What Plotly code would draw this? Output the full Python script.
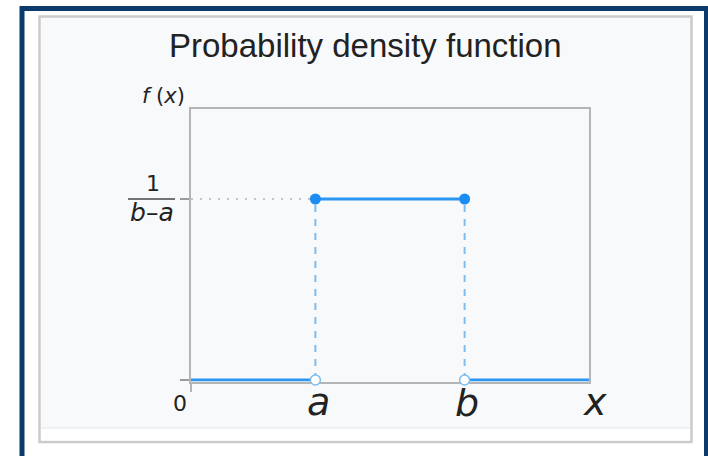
import plotly.graph_objects as go

# Uniform distribution on [a, b]
a = 1.0
b = 2.2
x_end = 3.2
density = 1.0 / (b - a)

x_labels = ["0", "a", "b", "x"]
x_label_pos = [0.0, a, b, x_end]

W, H = 708, 456

# plot-area placement (pixels); the bottom edge sits a touch below y = 0
# so the zero-density segments are not clipped by the plot area
PL, PR, PT, PB = 191, 589, 109, 380
PAD = 1.5
px_per_unit = (PB - 199) / density
y_top = (PB - PT) / px_per_unit
y_bottom = -PAD / px_per_unit


def fx(px):
    return px / W


def fy(py):
    return 1 - py / H


BLUE = "#2b95f2"
BLUE_DOT = "#1c8cf5"
BLUE_DASH = "#7dbdf0"
AXIS = "#b5b5b5"
TXT = "#222222"

fig = go.Figure()

# dotted guide from the y-axis to the left end of the density
fig.add_trace(go.Scatter(x=[0, a], y=[density, density], mode="lines",
                         line=dict(color="#c4c4c4", width=1.8, dash="2px,7px"),
                         hoverinfo="skip"))
# vertical dashed drops at a and b
for xv in (a, b):
    fig.add_trace(go.Scatter(x=[xv, xv], y=[0, density], mode="lines",
                             line=dict(color=BLUE_DASH, width=2, dash="7px,7px"),
                             hoverinfo="skip"))
# zero density outside [a, b]
fig.add_trace(go.Scatter(x=[0, a], y=[0, 0], mode="lines",
                         line=dict(color=BLUE, width=3), hoverinfo="skip"))
fig.add_trace(go.Scatter(x=[b, x_end], y=[0, 0], mode="lines",
                         line=dict(color=BLUE, width=3), hoverinfo="skip"))
# constant density on [a, b]
fig.add_trace(go.Scatter(x=[a, b], y=[density, density], mode="lines",
                         line=dict(color=BLUE, width=3), hoverinfo="skip"))
# closed endpoints at the top, open endpoints at the bottom
fig.add_trace(go.Scatter(x=[a, b], y=[density, density], mode="markers",
                         marker=dict(color=BLUE_DOT, size=11),
                         cliponaxis=False, hoverinfo="skip"))
fig.add_trace(go.Scatter(x=[a, b], y=[0, 0], mode="markers",
                         marker=dict(color="white", size=10,
                                     line=dict(color=BLUE_DASH, width=1.5)),
                         cliponaxis=False, hoverinfo="skip"))

shapes = [
    # outer frame
    dict(type="rect", xref="paper", yref="paper", x0=fx(22), x1=fx(706.5),
         y0=fy(460), y1=fy(8.5), line=dict(color="#0b3a6d", width=5),
         fillcolor="white", layer="below"),
    # inner panel
    dict(type="rect", xref="paper", yref="paper", x0=fx(39.5), x1=fx(691.5),
         y0=fy(442), y1=fy(16.5), line=dict(color="#cbcbcb", width=2.5),
         fillcolor="#f8f9fa", layer="below"),
    dict(type="rect", xref="paper", yref="paper", x0=fx(41), x1=fx(690),
         y0=fy(440.5), y1=fy(428), line=dict(width=0),
         fillcolor="#ffffff", layer="below"),
    dict(type="line", xref="paper", yref="paper", x0=fx(41), x1=fx(690),
         y0=fy(428), y1=fy(428), line=dict(color="#e2e4e6", width=1),
         layer="below"),
    # fraction bar of the y tick label
    dict(type="line", xref="paper", yref="paper", x0=fx(128), x1=fx(175),
         y0=fy(199), y1=fy(199), line=dict(color="#444444", width=1.5)),
]


def note(text, x, y, size, family="DejaVu Sans", xref="paper", xshift=0):
    return dict(text=text, x=x, y=fy(y), xref=xref, yref="paper",
                xanchor="center", yanchor="middle", xshift=xshift,
                showarrow=False, font=dict(family=family, size=size, color=TXT))


annotations = [
    note("Probability density function", fx(366), 45, 33, "Liberation Sans"),
    note("<i>f</i> (<i>x</i>)", fx(163), 96, 21),
    note("1", fx(153), 184, 22),
    note("<i>b</i>\u2013<i>a</i>", fx(152), 212, 25),
]
sizes = [22, 38, 38, 38]
offsets = [-11, 3, 2, 6]
ys = [403, 402, 403, 402]
for lab, xv, sz, off, yy in zip(x_labels, x_label_pos, sizes, offsets, ys):
    txt = lab if lab == "0" else f"<i>{lab}</i>"
    annotations.append(note(txt, xv, yy, sz, xref="x", xshift=off))

fig.update_layout(
    width=W, height=H,
    margin=dict(l=0, r=0, t=0, b=0),
    paper_bgcolor="white",
    plot_bgcolor="rgba(0,0,0,0)",
    showlegend=False,
    shapes=shapes,
    annotations=annotations,
    xaxis=dict(domain=[fx(PL), fx(PR)], range=[0, x_end], showgrid=False,
               zeroline=False, showline=True, linecolor=AXIS, linewidth=2,
               mirror=True, tickmode="array", tickvals=[0], ticktext=[""],
               ticks="outside", ticklen=8, tickcolor=AXIS, tickwidth=2,
               layer="below traces", fixedrange=True),
    yaxis=dict(domain=[fy(PB + PAD), fy(PT)], range=[y_bottom, y_top],
               showgrid=False, zeroline=False, showline=True, linecolor=AXIS,
               linewidth=2, mirror=True, tickmode="array",
               tickvals=[0, density], ticktext=["", ""], ticks="outside",
               ticklen=9, tickcolor="#9a9a9a", tickwidth=2,
               layer="below traces", fixedrange=True),
)

fig.write_html("out.html", config={"displayModeBar": False})
